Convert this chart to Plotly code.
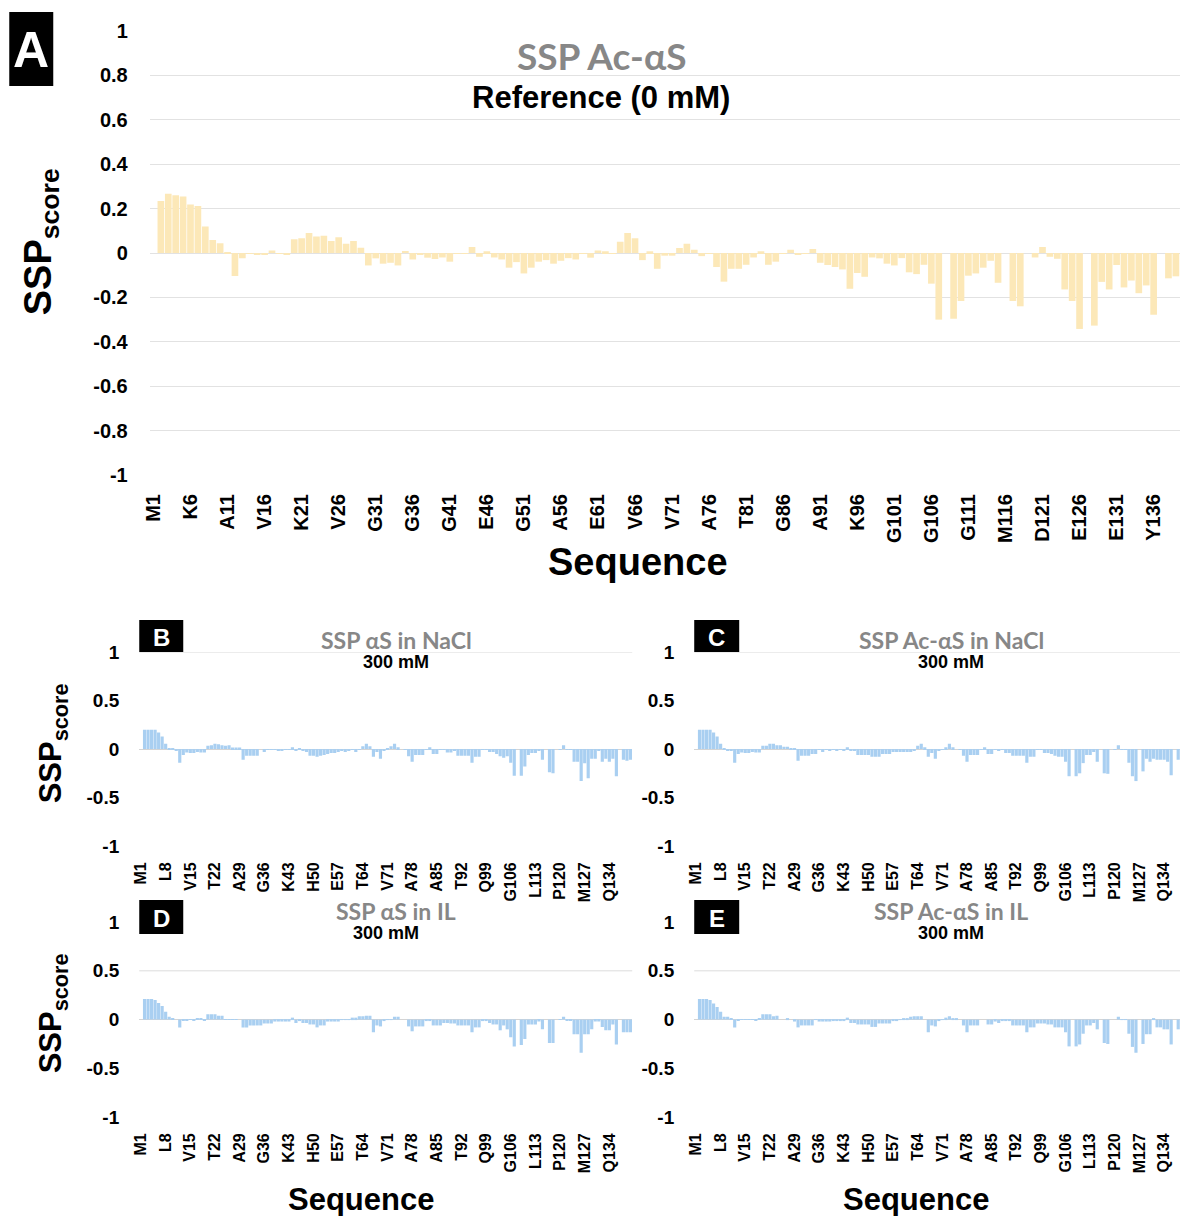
import plotly.graph_objects as go

# Empirical placement calibration: reference pixel position -> figure pixel.
OX, SX = 6.74, 0.9933
OY, SY = 11.0, 0.982
W, H = 1184, 1228

SEQUENCE = ("MDVFMKGLSKAKEGVVAAAEKTKQGVAEAAGKTKEGVLYVGSKTKEGVVHGVATVAEKTK"
            "EQVTNVGGAVVTGVTAVAQKTVEGAGSIAAATGFVKKDQLGKNEEGAPQEGILEDMPVDP"
            "DNEAYEMPSEEGYQDYEPEA")
residues = [f"{aa}{i + 1}" for i, aa in enumerate(SEQUENCE)]
ticks_A = residues[::5]
ticks_small = residues[::7]

ssp_ac_ref = [
    None, 0.234, 0.267, 0.260, 0.255, 0.219, 0.212, 0.119, 0.059, 0.044,
    0.003, -0.104, -0.024, -0.003, -0.009, -0.009, 0.011, -0.002, -0.006, 0.062,
    0.066, 0.090, 0.074, 0.078, 0.054, 0.071, 0.042, 0.054, 0.024, -0.056,
    -0.024, -0.048, -0.044, -0.056, 0.009, -0.029, -0.009, -0.021, -0.027, -0.020,
    -0.039, -0.001, -0.004, 0.027, -0.017, 0.008, -0.020, -0.029, -0.066, -0.041,
    -0.092, -0.066, -0.039, -0.032, -0.048, -0.035, -0.023, -0.029, -0.002, -0.021,
    0.011, 0.008, -0.003, 0.051, 0.090, 0.066, -0.032, 0.008, -0.071, -0.012,
    -0.012, 0.023, 0.042, 0.015, -0.014, -0.003, -0.063, -0.129, -0.071, -0.071,
    -0.053, -0.020, 0.008, -0.053, -0.039, -0.002, 0.015, -0.008, -0.001, 0.018,
    -0.044, -0.054, -0.063, -0.074, -0.161, -0.090, -0.107, -0.020, -0.024, -0.048,
    -0.056, -0.023, -0.087, -0.095, -0.053, -0.138, -0.300, None, -0.296, -0.216,
    -0.102, -0.092, -0.066, -0.035, -0.134, None, -0.216, -0.240, None, -0.020,
    0.027, -0.017, -0.026, -0.164, -0.216, -0.342, None, -0.327, -0.130, -0.164,
    -0.054, -0.155, -0.124, -0.181, -0.146, -0.278, None, -0.114, -0.105, -0.100,
]

ssp_as_nacl = [
    None, 0.20, 0.20, 0.20, 0.20, 0.17, 0.13, 0.055, 0.01, 0.005,
    -0.02, -0.14, -0.06, -0.035, -0.04, -0.04, -0.03, -0.035, -0.035, 0.035,
    0.04, 0.055, 0.05, 0.04, 0.035, 0.04, 0.015, 0.015, 0.015, -0.11,
    -0.07, -0.07, -0.07, -0.07, 0.0, -0.03, -0.01, -0.01, -0.01, -0.02,
    -0.02, -0.01, -0.01, 0.02, -0.02, 0.005, -0.02, -0.03, -0.07, -0.07,
    -0.08, -0.07, -0.06, -0.05, -0.04, -0.04, -0.03, -0.02, -0.03, -0.02,
    -0.01, -0.03, -0.01, 0.03, 0.055, 0.03, -0.08, -0.03, -0.10, -0.02,
    0.01, 0.03, 0.055, 0.02, 0.0, -0.005, -0.075, -0.13, -0.06, -0.06,
    -0.06, -0.01, 0.02, -0.05, -0.05, -0.01, -0.01, -0.035, -0.035, -0.02,
    -0.07, -0.07, -0.07, -0.07, -0.14, -0.08, -0.08, -0.01, -0.01, -0.03,
    -0.03, -0.05, -0.075, -0.09, -0.075, -0.14, -0.275, None, -0.275, -0.18,
    -0.06, -0.04, -0.04, -0.02, -0.11, None, -0.24, -0.25, None, -0.005,
    0.04, -0.01, -0.01, -0.13, -0.13, -0.33, -0.145, -0.30, -0.10, -0.10,
    -0.02, -0.13, -0.10, -0.13, -0.10, -0.28, None, -0.11, -0.12, -0.11,
]

ssp_ac_nacl = [
    None, 0.20, 0.20, 0.20, 0.20, 0.17, 0.13, 0.055, 0.005, -0.015,
    -0.02, -0.14, -0.05, -0.035, -0.04, -0.04, -0.03, -0.035, -0.035, 0.035,
    0.035, 0.055, 0.055, 0.04, 0.04, 0.025, 0.025, 0.01, 0.005, -0.12,
    -0.07, -0.07, -0.07, -0.05, -0.05, -0.005, -0.03, -0.01, -0.015, -0.01,
    -0.02, -0.01, -0.015, 0.02, -0.02, -0.02, -0.06, -0.06, -0.06, -0.06,
    -0.08, -0.08, -0.08, -0.05, -0.05, -0.05, -0.03, -0.03, -0.03, -0.03,
    -0.03, -0.03, -0.02, 0.035, 0.055, 0.02, -0.08, -0.04, -0.10, -0.02,
    -0.01, 0.02, 0.055, 0.02, 0.0, -0.005, -0.07, -0.13, -0.06, -0.06,
    -0.06, -0.005, 0.02, -0.05, -0.05, -0.01, -0.02, -0.01, -0.04, -0.04,
    -0.07, -0.07, -0.07, -0.07, -0.14, -0.08, -0.08, -0.01, -0.01, -0.04,
    -0.04, -0.05, -0.07, -0.08, -0.08, -0.13, -0.28, None, -0.28, -0.25,
    -0.145, -0.06, -0.06, -0.03, -0.13, None, -0.25, -0.255, None, -0.005,
    0.04, -0.01, -0.01, -0.14, -0.28, -0.33, None, -0.23, -0.10, -0.13,
    -0.10, -0.11, -0.11, -0.11, -0.13, -0.27, None, -0.11, -0.11, -0.11,
]

ssp_as_il = [
    None, 0.21, 0.21, 0.21, 0.20, 0.17, 0.14, 0.08, 0.03, 0.015,
    0.0, -0.08, -0.015, -0.01, -0.005, -0.01, 0.01, 0.01, -0.015, 0.055,
    0.055, 0.055, 0.04, 0.04, -0.005, -0.005, -0.005, -0.005, 0.0, -0.08,
    -0.08, -0.06, -0.06, -0.06, -0.06, -0.04, -0.04, -0.04, -0.02, -0.02,
    -0.02, -0.02, -0.02, 0.02, -0.035, -0.01, -0.035, -0.035, -0.05, -0.05,
    -0.08, -0.06, -0.06, -0.02, -0.02, -0.02, -0.02, 0.005, 0.005, 0.005,
    0.02, 0.02, 0.035, 0.035, 0.04, 0.04, -0.13, -0.06, -0.07, -0.015,
    -0.005, -0.005, 0.03, 0.03, 0.0, 0.0, -0.07, -0.12, -0.07, -0.07,
    -0.07, -0.01, -0.01, -0.06, -0.06, -0.06, -0.035, -0.035, -0.04, -0.04,
    -0.06, -0.06, -0.06, -0.06, -0.13, -0.08, -0.08, -0.01, -0.01, -0.035,
    -0.05, -0.05, -0.11, -0.06, -0.10, -0.18, -0.275, None, -0.26, -0.20,
    -0.05, -0.05, -0.05, -0.02, -0.10, None, -0.24, -0.24, None, -0.005,
    0.03, -0.01, -0.01, -0.15, -0.15, -0.34, -0.15, -0.15, -0.10, -0.02,
    -0.02, -0.075, -0.11, -0.11, -0.05, -0.255, None, -0.13, -0.13, -0.13,
]

ssp_ac_il = [
    None, 0.21, 0.21, 0.21, 0.20, 0.165, 0.13, 0.08, 0.03, 0.03,
    0.015, -0.08, -0.015, -0.005, 0.005, -0.005, 0.005, -0.015, 0.01, 0.055,
    0.055, 0.055, 0.035, 0.04, 0.0, 0.0, 0.01, 0.0, -0.02, -0.08,
    -0.06, -0.06, -0.06, -0.06, -0.005, -0.02, -0.02, -0.02, -0.02, -0.015,
    -0.015, -0.015, -0.015, 0.02, -0.035, -0.035, -0.05, -0.05, -0.05, -0.05,
    -0.075, -0.075, -0.04, -0.04, -0.04, -0.04, -0.015, -0.015, 0.005, 0.015,
    0.015, 0.03, 0.035, 0.035, 0.035, 0.0, -0.13, -0.06, -0.07, -0.015,
    -0.005, 0.02, 0.035, 0.01, 0.01, 0.0, -0.06, -0.13, -0.06, -0.06,
    -0.06, 0.0, 0.0, -0.05, -0.05, -0.02, -0.035, -0.015, -0.01, -0.01,
    -0.06, -0.06, -0.06, -0.06, -0.13, -0.08, -0.08, -0.04, -0.04, -0.04,
    -0.05, -0.05, -0.08, -0.08, -0.08, -0.13, -0.275, None, -0.275, -0.255,
    -0.145, -0.06, -0.06, -0.035, -0.10, None, -0.24, -0.25, None, 0.0,
    0.03, -0.005, -0.005, -0.145, -0.28, -0.34, None, -0.25, -0.15, -0.15,
    0.015, -0.08, -0.08, -0.10, -0.10, -0.255, None, -0.10, -0.10, -0.10,
]

A_YTICKS = [1, 0.8, 0.6, 0.4, 0.2, 0, -0.2, -0.4, -0.6, -0.8, -1]
A_YTEXT = ["1", "0.8", "0.6", "0.4", "0.2", "0", "-0.2", "-0.4", "-0.6", "-0.8", "-1"]
S_YTICKS = [1, 0.5, 0, -0.5, -1]
S_YTEXT = ["1", "0.5", "0", "-0.5", "-1"]

YELLOW = "#FCE8B8"
BLUE = "#A9CFF1"
FONT = "Liberation Sans"
TITLE_FONT = "Lato"


def px(x):
    return min(1.0, max(0.0, (x - OX) / SX / W))


def py(y):
    return min(1.0, max(0.0, 1 - (y - OY) / SY / H))


fig = go.Figure()

# the right-hand panels are cut at the picture edge, so their last
# categories are only partly in view (visible category count given)
panels = [
    ("", ssp_ac_ref, YELLOW, 148.5, 1180, 31, 475, 139.22),
    ("2", ssp_as_nacl, BLUE, 138, 631, 652, 846, 140),
    ("3", ssp_ac_nacl, BLUE, 693, 1180, 652, 846, 138.35),
    ("4", ssp_as_il, BLUE, 138, 631, 922, 1117, 140),
    ("5", ssp_ac_il, BLUE, 693, 1180, 922, 1117, 138.35),
]

layout = {}
for i, (sfx, vals, col, x0, x1, yt, yb, nvis) in enumerate(panels):
    fig.add_trace(go.Bar(x=residues, y=vals, marker=dict(color=col, line=dict(width=0)),
                         xaxis="x" + sfx, yaxis="y" + sfx, showlegend=False,
                         hoverinfo="x+y"))
    big = i == 0
    layout["xaxis" + sfx] = dict(
        domain=[px(x0), px(x1)], anchor="y" + sfx, type="category",
        categoryorder="array", categoryarray=residues,
        range=[-0.5, nvis - 0.5],
        tickmode="array", tickvals=ticks_A if big else ticks_small,
        ticktext=ticks_A if big else ticks_small,
        tickangle=-90, showgrid=False, zeroline=False, showline=False, ticks="",
        ticklabelstandoff=14 if big else 12,
        tickfont=dict(family=FONT, size=20 if big else 16, color="black", weight="bold"),
    )
    layout["yaxis" + sfx] = dict(
        domain=[py(yb), py(yt)], anchor="x" + sfx, range=[-1, 1],
        tickmode="array", tickvals=A_YTICKS if big else S_YTICKS,
        ticktext=A_YTEXT if big else S_YTEXT,
        showgrid=big, gridcolor="#e2e2e2", gridwidth=1,
        zeroline=not big, zerolinecolor="#d4d4d4", zerolinewidth=1,
        showline=False, ticks="",
        ticklabelstandoff=21 if big else 19,
        tickfont=dict(family=FONT, size=20 if big else 19, color="black", weight="bold"),
    )

fig.update_layout(**layout)

shapes = []
for sfx, yv in [("2", 1), ("3", 1), ("4", 0.5), ("5", 0.5)]:
    shapes.append(dict(type="line", xref="x" + sfx + " domain", yref="y" + sfx,
                       x0=0, x1=1, y0=yv, y1=yv, line=dict(color="#dcdcdc", width=1),
                       layer="below"))
boxes = [("A", 8, 52, 12, 86, 50), ("B", 138, 182, 620, 652, 24),
         ("C", 693, 738, 620, 652, 24), ("D", 138, 182, 900, 934, 24),
         ("E", 693, 738, 900, 934, 24)]
annotations = []
for letter, bx0, bx1, by0, by1, fs in boxes:
    shapes.append(dict(type="rect", xref="paper", yref="paper",
                       x0=px(bx0), x1=px(bx1), y0=py(by1), y1=py(by0),
                       fillcolor="black", line=dict(width=0)))
    annotations.append(dict(xref="paper", yref="paper", x=px((bx0 + bx1) / 2),
                            y=py((by0 + by1) / 2 + 1), text=f"<b>{letter}</b>",
                            showarrow=False, xanchor="center", yanchor="middle",
                            font=dict(family=FONT, size=fs, color="white")))


def label(x, y, text, size, color="black", family=FONT, angle=0):
    annotations.append(dict(xref="paper", yref="paper", x=px(x), y=py(y), text=text,
                            showarrow=False, xanchor="center", yanchor="middle",
                            textangle=angle,
                            font=dict(family=family, size=size, color=color)))


GRAY = "#878787"
label(600, 55, "<b>SSP Ac-αS</b>", 37, GRAY, TITLE_FONT)
label(600, 97, "<b>Reference (0 mM)</b>", 31)
label(637, 562, "<b>Sequence</b>", 38)
label(40, 242, "<b>SSP<sub>score</sub></b>", 38, angle=-90)

label(395, 640, "<b>SSP αS in NaCl</b>", 23, GRAY, TITLE_FONT)
label(395, 662, "<b>300 mM</b>", 18)
label(950, 640, "<b>SSP Ac-αS in NaCl</b>", 23, GRAY, TITLE_FONT)
label(950, 662, "<b>300 mM</b>", 18)
label(395, 911, "<b>SSP αS in IL</b>", 23, GRAY, TITLE_FONT)
label(385, 933, "<b>300 mM</b>", 18)
label(950, 911, "<b>SSP Ac-αS in IL</b>", 23, GRAY, TITLE_FONT)
label(950, 933, "<b>300 mM</b>", 18)

label(52, 743, "<b>SSP<sub>score</sub></b>", 31, angle=-90)
label(52, 1013, "<b>SSP<sub>score</sub></b>", 31, angle=-90)
label(360, 1199, "<b>Sequence</b>", 31)
label(915, 1199, "<b>Sequence</b>", 31)

fig.update_layout(width=W, height=H, margin=dict(l=0, r=0, t=0, b=0),
                  paper_bgcolor="white", plot_bgcolor="white",
                  bargap=0.1, showlegend=False,
                  shapes=shapes, annotations=annotations)

fig.write_html("out.html")
